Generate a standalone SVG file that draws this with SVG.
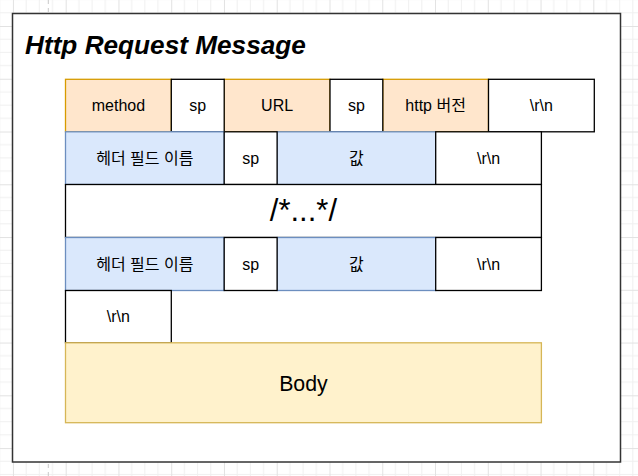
<svg xmlns="http://www.w3.org/2000/svg" width="638" height="476" viewBox="0 0 638 476">
  <defs>
    <pattern id="grid" patternUnits="userSpaceOnUse" x="12.94" y="26" width="52.76" height="52.76">
      <path d="M13.19 0V52.76M26.38 0V52.76M39.57 0V52.76M0 13.19H52.76M0 26.38H52.76M0 39.57H52.76" fill="none" stroke="#f0f0f0" stroke-width="1"/>
      <path d="M0.5 0V52.76M0 0.5H52.76" fill="none" stroke="#e2e2e2" stroke-width="1"/>
    </pattern>
    <style>
      text { font-family: "Liberation Sans", Arial, "Noto Sans CJK KR", sans-serif; fill: #000; text-anchor: middle; }
      .t16 { font-size: 16px; }
      .cell { stroke-width: 1.3; }
      .orange { fill: #ffe6cc; stroke: #d79b00; }
      .blue { fill: #dae8fc; stroke: #6c8ebf; }
      .white { fill: #ffffff; stroke: #000000; }
      .yellow { fill: #fff2cc; stroke: #d6b656; }
    </style>
  </defs>

  <g id="background">
    <rect x="0" y="0" width="638" height="476" fill="#ffffff"/>
    <rect x="0" y="0" width="638" height="476" fill="url(#grid)"/>
    <line x1="48.3" y1="0" x2="48.3" y2="476" stroke="#c8c8c8" stroke-width="1" stroke-dasharray="4 4"/>
  </g>

  <g id="frame">
    <rect x="12.5" y="13.5" width="608" height="448.5" fill="#ffffff" stroke="#333333" stroke-width="1.5"/>
    <text x="25" y="54" text-anchor="start" style="text-anchor:start;font-size:26.2px;font-weight:bold;font-style:italic">Http Request Message</text>
  </g>

  <g id="row1">
    <g id="method"><rect class="cell orange" x="65.5" y="79.3" width="105.8" height="52.5"/><text class="t16" x="118.4" y="111.3">method</text></g>
    <g id="url"><rect class="cell orange" x="224.2" y="79.3" width="105.8" height="52.5"/><text class="t16" x="277.1" y="111.3">URL</text></g>
    <g id="version"><rect class="cell orange" x="382.8" y="79.3" width="105.7" height="52.5"/><text class="t16" x="435.6" y="111.3">http 버전</text></g>
    <g id="sp1"><rect class="cell white" x="171.3" y="79.3" width="52.9" height="52.5"/><text class="t16" x="197.7" y="111.3">sp</text></g>
    <g id="sp2"><rect class="cell white" x="330" y="79.3" width="52.8" height="52.5"/><text class="t16" x="356.4" y="111.3">sp</text></g>
    <g id="crlf1"><rect class="cell white" x="488.5" y="79.3" width="105.8" height="52.5"/><text class="t16" x="541.4" y="111.3">\r\n</text></g>
  </g>

  <g id="row2">
    <g id="header-name-1"><rect class="cell blue" x="65.5" y="131.8" width="158.7" height="52.7"/><text class="t16" x="144.8" y="163.8">헤더 필드 이름</text></g>
    <g id="value-1"><rect class="cell blue" x="277.1" y="131.8" width="158.6" height="52.7"/><text class="t16" x="356.4" y="163.8">값</text></g>
    <g id="sp3"><rect class="cell white" x="224.2" y="131.8" width="52.9" height="52.7"/><text class="t16" x="250.6" y="163.8">sp</text></g>
    <g id="crlf2"><rect class="cell white" x="435.7" y="131.8" width="105.7" height="52.7"/><text class="t16" x="488.5" y="163.8">\r\n</text></g>
  </g>

  <g id="row3">
    <rect class="cell white" x="65.5" y="184.5" width="475.9" height="53"/>
    <text x="303.4" y="221" style="font-size:31px">/*...*/</text>
  </g>

  <g id="row4">
    <g id="header-name-2"><rect class="cell blue" x="65.5" y="237.5" width="158.7" height="53"/><text class="t16" x="144.8" y="269.7">헤더 필드 이름</text></g>
    <g id="value-2"><rect class="cell blue" x="277.1" y="237.5" width="158.6" height="53"/><text class="t16" x="356.4" y="269.7">값</text></g>
    <g id="sp4"><rect class="cell white" x="224.2" y="237.5" width="52.9" height="53"/><text class="t16" x="250.6" y="269.7">sp</text></g>
    <g id="crlf3"><rect class="cell white" x="435.7" y="237.5" width="105.7" height="53"/><text class="t16" x="488.5" y="269.7">\r\n</text></g>
  </g>

  <g id="row5">
    <rect class="cell white" x="65.5" y="290.5" width="105.8" height="52.3"/>
    <text class="t16" x="118.4" y="322.4">\r\n</text>
  </g>

  <g id="body">
    <rect class="cell yellow" x="65.5" y="342.8" width="475.9" height="79.9"/>
    <text x="303.4" y="390.6" style="font-size:21.3px">Body</text>
  </g>

  <g id="connectors"></g>
</svg>
